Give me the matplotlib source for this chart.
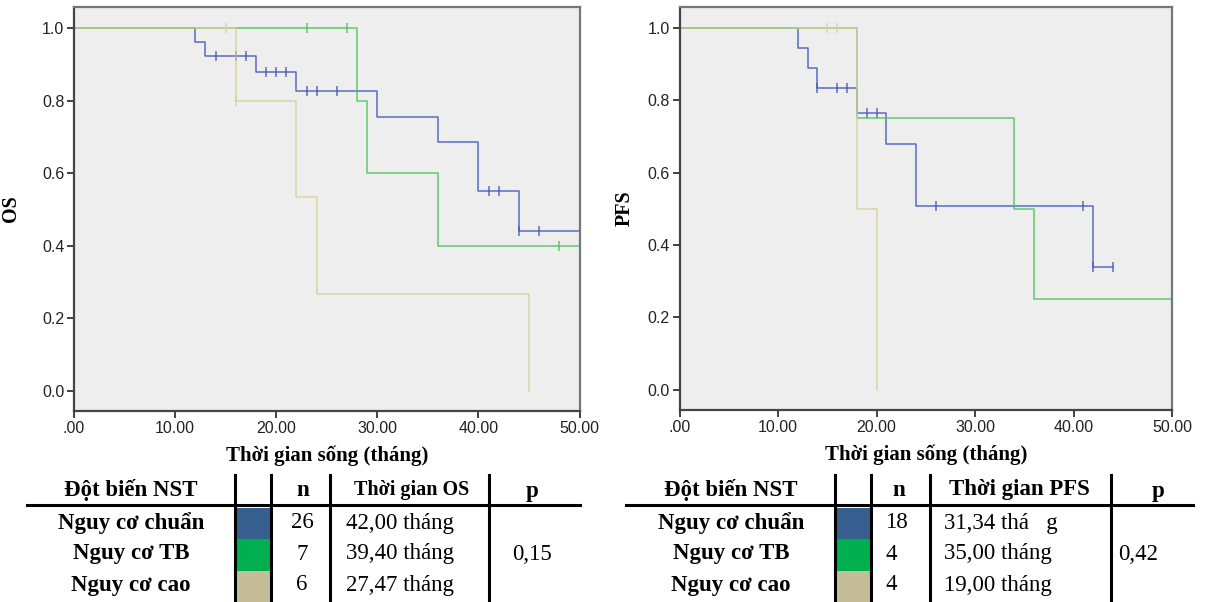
import matplotlib
matplotlib.use("Agg")
import matplotlib.pyplot as plt
import numpy as np

# ---- data ----
# OS curves (step start times, survival after each step)
os_std_t = [0, 12, 13, 18, 22, 30, 36, 40, 44]
os_std_s = [1.0, 0.962, 0.923, 0.879, 0.827, 0.756, 0.687, 0.550, 0.440]
os_std_cens = [14, 16, 17, 19, 20, 21, 23, 24, 26, 41, 42, 44, 46]
os_std_end = 50

os_mid_t = [0, 28, 29, 36]
os_mid_s = [1.0, 0.80, 0.60, 0.40]
os_mid_cens = [23, 27, 48]
os_mid_end = 50

os_high_t = [0, 16, 22, 24, 45]
os_high_s = [1.0, 0.80, 0.533, 0.267, 0.0]
os_high_cens = [15, 16]
os_high_end = 45

# PFS curves
pfs_std_t = [0, 12, 13, 14, 18, 21, 24, 42]
pfs_std_s = [1.0, 0.944, 0.889, 0.833, 0.764, 0.679, 0.509, 0.340]
pfs_std_cens = [14, 16, 17, 19, 20, 26, 41, 42, 44]
pfs_std_end = 44

pfs_mid_t = [0, 18, 34, 36]
pfs_mid_s = [1.0, 0.75, 0.50, 0.25]
pfs_mid_cens = []
pfs_mid_end = 50

pfs_high_t = [0, 18, 20]
pfs_high_s = [1.0, 0.50, 0.0]
pfs_high_cens = [15, 16]
pfs_high_end = 20

groups = ["Nguy cơ chuẩn", "Nguy cơ TB", "Nguy cơ cao"]
os_n = ["26", "7", "6"]
os_median = ["42,00 tháng", "39,40 tháng", "27,47 tháng"]
os_p = "0,15"
pfs_n = ["18", "4", "4"]
pfs_median = ["31,34 thá   g", "35,00 tháng", "19,00 tháng"]
pfs_p = "0,42"

xticks = [0, 10, 20, 30, 40, 50]
xtick_labels = [".00", "10.00", "20.00", "30.00", "40.00", "50.00"]
yticks = [0.0, 0.2, 0.4, 0.6, 0.8, 1.0]
ytick_labels = ["0.0", "0.2", "0.4", "0.6", "0.8", "1.0"]

line_colors = ["#4256b8", "#46c456", "#d8cf9c"]
swatch_colors = ["#365e8f", "#00b050", "#c4bd97"]

W, H = 1206, 602
fig = plt.figure(figsize=(W / 100, H / 100), dpi=100)
serif = "Liberation Serif"
sans = "Liberation Sans"


def px_axes(x0, y0, x1, y1):
    return fig.add_axes([x0 / W, 1 - y1 / H, (x1 - x0) / W, (y1 - y0) / H])


def km_curve(ax, t, s, cens, end, color):
    xs = list(t) + [end]
    ys = list(s) + [s[-1]]
    ax.step(xs, ys, where="post", color=color, lw=1.1, alpha=0.85)
    if cens:
        idx = np.searchsorted(t, cens, side="right") - 1
        cy = np.array(s)[idx]
        ax.plot(cens, cy, linestyle="none", marker="|", markersize=7,
                markeredgewidth=1.1, color=color, alpha=0.85)


def style_axes(ax, ylab):
    ax.set_facecolor("#eeeeee")
    ax.set_xlim(0, 50)
    ax.set_ylim(-0.056, 1.058)
    ax.set_xticks(xticks)
    ax.set_xticklabels(xtick_labels, fontfamily=sans, fontsize=11.5)
    ax.set_yticks(yticks)
    ax.set_yticklabels(ytick_labels, fontfamily=sans, fontsize=11.5)
    ax.tick_params(direction="out", length=5, width=1.3, color="#333333",
                   labelcolor="#222222", pad=2)
    for side in ["left", "bottom"]:
        ax.spines[side].set_color("#444444")
        ax.spines[side].set_linewidth(1.6)
    for side in ["top", "right"]:
        ax.spines[side].set_color("#777777")
        ax.spines[side].set_linewidth(1.6)
    ax.set_xlabel("Thời gian sống (tháng)", fontfamily=serif,
                  fontweight="bold", fontsize=15)
    ax.xaxis.set_label_coords(0.5, -0.085)
    ax.set_ylabel(ylab, fontfamily=serif, fontweight="bold", fontsize=14.5)


ax1 = px_axes(74, 7, 579.5, 411)
km_curve(ax1, os_std_t, os_std_s, os_std_cens, os_std_end, line_colors[0])
km_curve(ax1, os_mid_t, os_mid_s, os_mid_cens, os_mid_end, line_colors[1])
km_curve(ax1, os_high_t, os_high_s, os_high_cens, os_high_end, line_colors[2])
style_axes(ax1, "OS")
ax1.yaxis.set_label_coords(-0.105, 0.5)

ax2 = px_axes(679.5, 7, 1172, 410)
km_curve(ax2, pfs_std_t, pfs_std_s, pfs_std_cens, pfs_std_end, line_colors[0])
km_curve(ax2, pfs_mid_t, pfs_mid_s, pfs_mid_cens, pfs_mid_end, line_colors[1])
km_curve(ax2, pfs_high_t, pfs_high_s, pfs_high_cens, pfs_high_end, line_colors[2])
style_axes(ax2, "PFS")
ax2.yaxis.set_label_coords(-0.09, 0.5)

# ---- tables below the plots (pixel coordinates) ----
tb = fig.add_axes([0, 0, 1, 1])
tb.set_xlim(0, W)
tb.set_ylim(H, 0)
tb.axis("off")
tb.patch.set_visible(False)

fs = 16.5


def draw_table(x_off, n_vals, medians, pval, time_head, head_fs, n_left,
               time_left, time_center, p_head_x, p_val_x, vlines, line_x):
    tb.plot(line_x, [505, 505], color="black", lw=2.2)
    for vx in vlines:
        tb.plot([vx, vx], [475, 602], color="black", lw=2.2)
    tb.text(x_off + 131, 490, "Đột biến NST", ha="center", va="center",
            fontfamily=serif, fontweight="bold", fontsize=fs)
    if n_left is None:
        tb.text(x_off + 303, 490, "n", ha="center", va="center",
                fontfamily=serif, fontweight="bold", fontsize=fs)
    else:
        tb.text(n_left + 14, 490, "n", ha="center", va="center",
                fontfamily=serif, fontweight="bold", fontsize=fs)
    tb.text(time_center, 490, time_head, ha="center", va="center",
            fontfamily=serif, fontweight="bold", fontsize=head_fs)
    tb.text(p_head_x, 492, "p", ha="center", va="center",
            fontfamily=serif, fontweight="bold", fontsize=fs)
    row_y = [523, 554, 585]
    for i in range(3):
        y0 = 507.5 + i * 31.5
        tb.add_patch(plt.Rectangle((vlines[0], y0), vlines[1] - vlines[0], 31.5,
                                   color=swatch_colors[i], lw=0))
        tb.text(x_off + 131, row_y[i], groups[i], ha="center", va="center",
                fontfamily=serif, fontweight="bold", fontsize=fs)
        if n_left is None:
            tb.text(x_off + 302, row_y[i], n_vals[i], ha="center", va="center",
                    fontfamily=serif, fontsize=fs)
        else:
            tb.text(n_left, row_y[i], n_vals[i], ha="left", va="center",
                    fontfamily=serif, fontsize=fs)
        tb.text(time_left, row_y[i], medians[i], ha="left", va="center",
                fontfamily=serif, fontsize=fs)
    tb.text(p_val_x, 554, pval, ha="center", va="center",
            fontfamily=serif, fontsize=fs)


draw_table(0, os_n, os_median, os_p, "Thời gian OS", 14.5, None, 346, 412,
           532, 532, [235, 270.7, 330, 489.3], [27, 580])
draw_table(600, pfs_n, pfs_median, pfs_p, "Thời gian PFS", fs, 885, 944, 1019,
           1158, 1138, [835, 870.7, 930, 1111], [626, 1193])

fig.savefig("out.png", dpi=100)
